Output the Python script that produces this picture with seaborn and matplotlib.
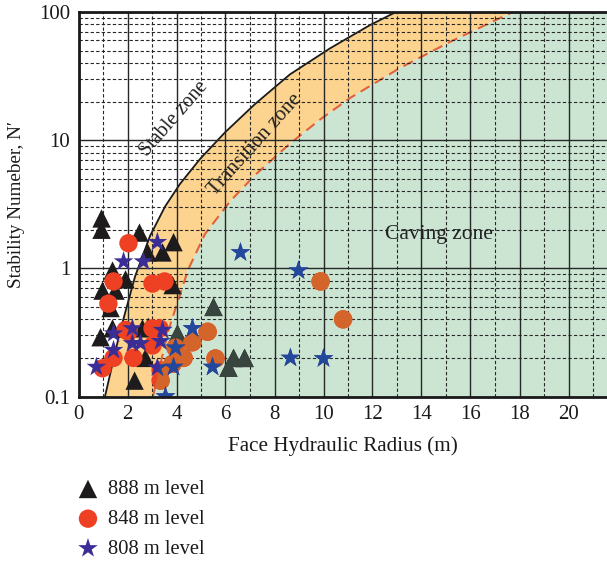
import numpy as np
import pandas as pd
import matplotlib
matplotlib.use("Agg")
import matplotlib.pyplot as plt
import seaborn as sns
from matplotlib.ticker import MultipleLocator, FixedLocator, FixedFormatter, NullFormatter

sns.set_theme(style="white")
plt.rcParams['font.family'] = ['Liberation Serif', 'DejaVu Serif']

# ---------------- data ----------------
# stable/transition boundary (solid)
solid_x = [1.08, 1.69, 2.31, 2.92, 3.53, 4.14, 4.96, 5.98, 7.20, 8.63, 10.27, 11.90, 12.96]
solid_n = [0.10, 0.319, 0.866, 1.79, 3.03, 4.55, 7.13, 11.5, 19.1, 32.6, 52.1, 79.1, 100.0]
# transition/caving boundary (dashed)
dash_x = [3.04, 3.65, 4.47, 5.16, 6.18, 7.20, 8.63, 9.86, 11.08, 13.12, 15.16, 17.72]
dash_n = [0.10, 0.319, 0.973, 1.85, 3.32, 5.33, 9.40, 14.5, 21.3, 36.6, 58.4, 100.0]

tri_x = [0.94, 0.94, 2.49, 3.88, 2.82, 3.43, 1.39, 1.92, 0.98, 1.51, 3.84, 1.31, 1.39,
         0.90, 2.61, 2.73, 2.29, 4.04, 5.51, 6.33, 6.78, 6.12, 2.85]
tri_y = [2.45, 2.00, 1.90, 1.60, 1.33, 1.33, 0.96, 0.82, 0.67, 0.67, 0.74, 0.49, 0.34,
         0.29, 0.34, 0.20, 0.133, 0.31, 0.50, 0.20, 0.20, 0.168, 0.35]

circ_x = [2.04, 1.43, 3.02, 3.51, 1.22, 1.92, 3.02, 3.31, 2.04, 3.02, 2.24, 1.43, 0.98,
          3.96, 4.65, 5.27, 4.29, 3.84, 5.59, 3.35, 3.35, 9.88, 10.8]
circ_y = [1.57, 0.79, 0.76, 0.79, 0.53, 0.33, 0.34, 0.34, 0.32, 0.25, 0.20, 0.20, 0.166,
          0.24, 0.265, 0.32, 0.20, 0.18, 0.198, 0.133, 0.16, 0.79, 0.40]

star_x = [3.22, 1.84, 2.65, 6.61, 8.98, 1.43, 2.20, 2.53, 2.20, 3.35, 3.43, 1.43, 0.73,
          3.22, 3.96, 4.65, 3.88, 5.47, 3.55, 8.65, 10.0]
star_y = [1.60, 1.13, 1.13, 1.33, 0.96, 0.31, 0.34, 0.26, 0.26, 0.27, 0.33, 0.23, 0.17,
          0.168, 0.24, 0.34, 0.17, 0.17, 0.10, 0.20, 0.198]

levels = ["888 m level", "848 m level", "808 m level"]
x_ticks = [0, 2, 4, 6, 8, 10, 12, 14, 16, 18, 20]
y_ticks = [0.1, 1, 10, 100]
y_tick_labels = ["0.1", "1", "10", "100"]
zone_labels = ["Stable zone", "Transition zone", "Caving zone"]

# ---------------- figure ----------------
W, H = 607, 561
fig = plt.figure(figsize=(W / 100, H / 100), dpi=100)
x0, x1 = 78.5, 607
ytop, ybot = 12, 396.5
ax = fig.add_axes([x0 / W, 1 - ybot / H, (x1 - x0) / W, (ybot - ytop) / H])
ax.set_yscale('log')
xmax = (x1 - x0) / 24.5
ax.set_xlim(0, xmax)
ax.set_ylim(0.1, 100)

orange = '#FDD48F'
green = '#CCE5D3'

# transition zone fill
ax.fill(solid_x + dash_x[::-1], solid_n + dash_n[::-1], color=orange, lw=0, zorder=0.5)
# caving zone fill
cave_poly = ax.fill(dash_x + [40, 40], dash_n + [100, 0.1], color=green, lw=0, zorder=0.6)[0]

# grid
ax.xaxis.set_major_locator(FixedLocator(x_ticks))
ax.xaxis.set_minor_locator(MultipleLocator(1))
ax.yaxis.set_major_locator(FixedLocator(y_ticks))
ax.yaxis.set_major_formatter(FixedFormatter(y_tick_labels))
ax.yaxis.set_minor_locator(FixedLocator([m * 10.0 ** e for e in (-1, 0, 1) for m in range(2, 10)]))
ax.yaxis.set_minor_formatter(NullFormatter())
ax.grid(which='major', color='#252826', lw=1.0, ls='-')
ax.grid(which='minor', color='#252826', lw=0.8, ls=(0, (3, 2)))
ax.set_axisbelow(False)
for gl in ax.get_xgridlines() + ax.get_ygridlines():
    gl.set_zorder(1)

# boundaries
ax.plot(solid_x, solid_n, color='#1a1a1a', lw=1.3, zorder=2.5)
ax.plot(dash_x, dash_n, color='#E2623A', lw=1.5, ls=(0, (5, 3)), zorder=2.5)

# points
series = [
    (tri_x, tri_y, '^', '#1d1b1c', '#38453f', 175, levels[0]),
    (circ_x, circ_y, 'o', '#EE4023', '#D3652B', 175, levels[1]),
    (star_x, star_y, '*', '#3A2E96', '#21489A', 220, levels[2]),
]
handles = []
z = 3.0
for xs, ys, mk, c_norm, c_cave, s, lab in series:
    df = pd.DataFrame({'x': xs, 'y': ys})
    n0 = len(ax.collections)
    sns.scatterplot(data=df, x='x', y='y', marker=mk, color=c_norm, s=s,
                    edgecolor='none', linewidth=0, ax=ax, zorder=z, legend=False)
    handles.append(ax.collections[n0])
    n1 = len(ax.collections)
    sns.scatterplot(data=df, x='x', y='y', marker=mk, color=c_cave, s=s,
                    edgecolor='none', linewidth=0, ax=ax, zorder=z + 0.05, legend=False)
    ax.collections[n1].set_clip_path(cave_poly)
    z += 0.1

# zone labels
ax.text(3.9, 14.6, zone_labels[0], rotation=49, ha='center', va='center',
        fontsize=14.5, color='#222', zorder=5, rotation_mode='anchor')
ax.text(7.2, 9.3, zone_labels[1], rotation=48, ha='center', va='center',
        fontsize=15, color='#222', zorder=5, rotation_mode='anchor')
ax.text(14.7, 1.84, zone_labels[2], ha='center', va='center',
        fontsize=15.5, color='#222', zorder=5)

# spines / ticks
for side in ['left', 'bottom', 'top']:
    ax.spines[side].set_color('#1a1a1a')
    ax.spines[side].set_linewidth(2.0)
    ax.spines[side].set_zorder(6)
ax.spines['right'].set_visible(False)
ax.tick_params(which='both', direction='in', length=0, labelsize=15, colors='#1a1a1a', pad=6)
ax.tick_params(axis='x', pad=6)
ax.set_xlabel('Face Hydraulic Radius (m)', fontsize=15.2, color='#1a1a1a', labelpad=9)
ax.set_ylabel("Stability Numeber, N\u2032", fontsize=13.8, color='#1a1a1a', labelpad=10)

leg = fig.legend(handles, levels, loc='upper left', bbox_to_anchor=(77.7 / W, 1 - 480 / H),
                 frameon=False, fontsize=14.8, handlelength=1.0, handletextpad=0.45,
                 labelspacing=0.5, borderaxespad=0, borderpad=0)
for t in leg.get_texts():
    t.set_color('#1a1a1a')

fig.savefig('out.png', dpi=100)
